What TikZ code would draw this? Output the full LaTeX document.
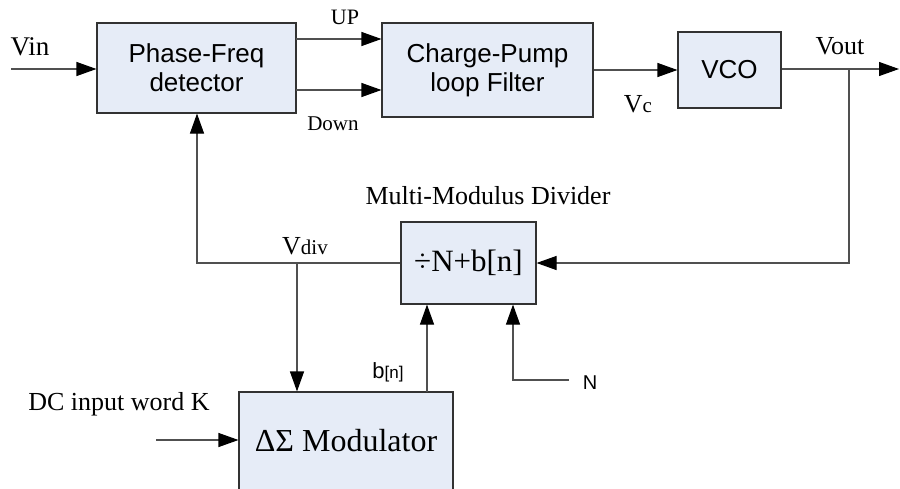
\documentclass[tikz,border=0pt]{standalone}
\usepackage{fontspec}
\setmainfont{Liberation Serif}
\setsansfont{Liberation Sans}
\usetikzlibrary{arrows.meta}
\definecolor{boxfill}{RGB}{230,236,247}
\definecolor{edge}{RGB}{50,50,50}
\definecolor{wire}{RGB}{80,80,80}
\begin{document}
\begin{tikzpicture}[x=1pt,y=-1pt,
  blk/.style={draw=edge,fill=boxfill,line width=1.1pt,inner sep=0pt,align=center,font=\sffamily\fontsize{26}{29}\selectfont},
  wirestyle/.style={draw=wire,line width=1.1pt},
  arr/.style={wirestyle,-{Triangle[length=20pt,width=14pt,color=black,fill=black]}},
  lbl/.style={inner sep=0pt}]
\useasboundingbox (0,0) rectangle (900,488);
\clip (0,0) rectangle (900,488);
\node[blk,minimum width=199pt,minimum height=90pt] (pfd) at (196.5,68) {Phase-Freq\\detector};
\node[blk,minimum width=211pt,minimum height=94pt] (cp) at (487.5,70) {Charge-Pump\\loop Filter};
\node[blk,minimum width=103pt,minimum height=76pt] (vco) at (729.5,70) {VCO};
\node[blk,minimum width=135pt,minimum height=82pt,font=\rmfamily\fontsize{31}{34}\selectfont] (div) at (468.5,263) {÷N+b[n]};
\node[blk,minimum width=214pt,minimum height=98pt,font=\rmfamily\fontsize{32}{35}\selectfont] (dsm) at (346,441) {ΔΣ Modulator};

\coordinate (vin) at (11,69);
\coordinate (up) at (296,39);
\coordinate (dn) at (296,90);
\coordinate (out) at (899,69);
\coordinate (br) at (849,69);
\coordinate (fbl) at (197,263);
\coordinate (vd) at (297,263);
\coordinate (bn) at (427,392);
\coordinate (nin) at (569,380);
\coordinate (nc) at (513,380);
\coordinate (dc) at (156,440);

\draw[arr] (vin) -- (vin -| pfd.west);
\draw[arr] (up) -- (up -| cp.west);
\draw[arr] (dn) -- (dn -| cp.west);
\draw[arr] (cp.east) -- (vco.west);
\draw[arr] (vco.east |- out) -- (out);
\draw[arr] (br) -- (br |- div.east) -- (div.east);
\draw[arr] (div.west) -- (fbl) -- (fbl |- pfd.south);
\draw[arr] (vd) -- (vd |- dsm.north);
\draw[arr] (bn) -- (bn |- div.south);
\draw[arr] (nin) -- (nc) -- (nc |- div.south);
\draw[arr] (dc) -- (dc -| dsm.west);

\node[lbl,font=\rmfamily\fontsize{27}{29}\selectfont] (tvin) at (30,47) {Vin};
\node[lbl,font=\rmfamily\fontsize{22}{24}\selectfont] (tup) at (345,17) {UP};
\node[lbl,font=\rmfamily\fontsize{21}{23}\selectfont] (tdown) at (333,124) {Down};
\node[lbl,font=\rmfamily\fontsize{26}{28}\selectfont] (tvout) at (840,46) {Vout};
\node[lbl,font=\rmfamily] (tvc) at (638,104) {{\fontsize{26}{28}\selectfont V}{\fontsize{21}{23}\selectfont c}};
\node[lbl,font=\rmfamily] (tvdiv) at (305,246) {{\fontsize{26}{28}\selectfont V}{\fontsize{21}{23}\selectfont div}};
\node[lbl,font=\rmfamily\fontsize{26}{28}\selectfont] (tmmd) at (488,196) {Multi-Modulus Divider};
\node[lbl,font=\sffamily] (tbn) at (388,372) {{\fontsize{22}{24}\selectfont b}{\fontsize{17}{19}\selectfont [n]}};
\node[lbl,font=\sffamily\fontsize{20}{22}\selectfont] (tn) at (590,383) {N};
\node[lbl,font=\rmfamily\fontsize{26}{28}\selectfont] (tdc) at (119,404) {DC input word K};
\end{tikzpicture}
\end{document}
